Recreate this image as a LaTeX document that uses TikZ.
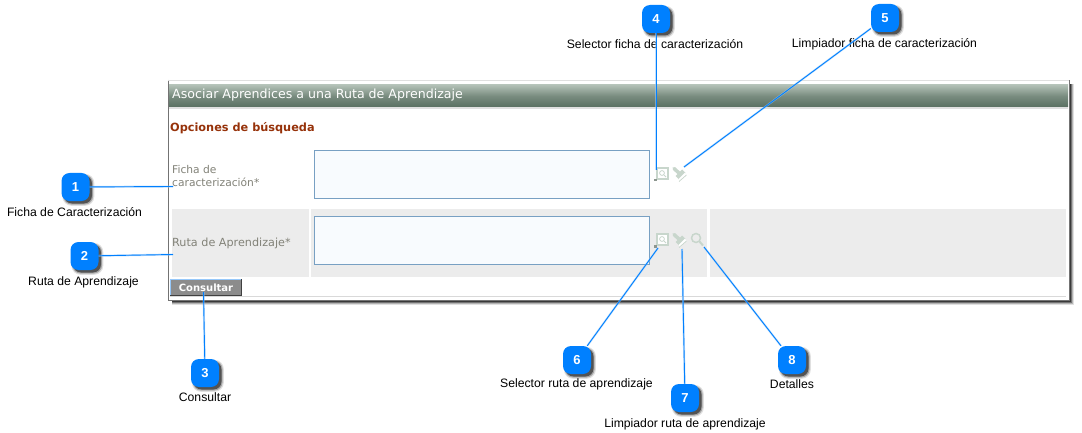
\documentclass[tikz,border=0pt]{standalone}
\usepackage{fontspec}
\setmainfont{Liberation Sans}
\newfontfamily\panelfont{DejaVu Sans}
\usetikzlibrary{shadows,calc}
\definecolor{mblue}{RGB}{0,128,255}
\definecolor{glow}{RGB}{150,200,250}
\definecolor{hdtop}{RGB}{178,192,182}
\definecolor{hdbot}{RGB}{90,112,98}
\definecolor{cellg}{RGB}{236,236,236}
\definecolor{inbd}{RGB}{120,160,195}
\definecolor{infill}{RGB}{248,251,254}
\definecolor{icong}{RGB}{200,214,204}
\definecolor{brown}{RGB}{150,50,10}
\definecolor{lblg}{RGB}{130,130,120}
\tikzset{
  x=1pt,y=-1pt,
  marker/.style={draw=none,fill=mblue,rounded corners=8pt,minimum size=28pt,inner sep=0pt,text=white,
    font=\bfseries\fontsize{13}{13}\selectfont,
    general shadow={shadow xshift=2.5pt,shadow yshift=-2.5pt,shadow scale=1.14,fill=black,opacity=.12},
    general shadow={shadow xshift=2.5pt,shadow yshift=-2.5pt,shadow scale=1.07,fill=black,opacity=.25},
    general shadow={shadow xshift=2.5pt,shadow yshift=-2.5pt,fill=black,opacity=.5}},
  caption/.style={font=\fontsize{12.2}{14}\selectfont,text=black,inner sep=0pt},
  wire/.style={draw=mblue,line width=.9pt,preaction={draw=glow,line width=2pt,opacity=.55}},
  plabel/.style={font=\panelfont\fontsize{10.7}{13}\selectfont,text=lblg,anchor=west,inner sep=0pt,align=left},
  inbox/.style={draw=inbd,fill=infill,line width=.9pt},
  cell/.style={fill=cellg,draw=none},
  icon/.style={draw=icong,line width=1.1pt},
  iconfill/.style={fill=icong,draw=none},
}
\newcommand{\selicon}[1]{%
  \begin{scope}[yshift=#1]
    \draw[icon,fill=white] (657,168) rectangle (668,179);
    \draw[draw=icong,line width=.8pt] (662,173) circle (2.4);
    \draw[draw=icong,line width=.8pt] (664,175) -- (666,177);
    \fill[icong!70!black] (654,179) rectangle (656.5,181.5);
  \end{scope}}
\newcommand{\brushicon}[1]{%
  \begin{scope}[yshift=#1]
    \draw[icong,line width=3.5pt,line cap=round] (674,168.5) -- (680,174);
    \fill[icong] (675.5,176) -- (682,169.5) -- (685.5,173) -- (679,179.5) -- cycle;
    \fill[white] (678.5,179) -- (685,172.7) -- (686.5,175) -- (680,181) -- cycle;
    \draw[icong,line width=.7pt] (679,181.5) -- (686.5,175);
  \end{scope}}
\begin{document}
\begin{tikzpicture}
\useasboundingbox (0,0) rectangle (1082,433);
\fill[white] (0,0) rectangle (1082,433);
% panel shadow
\foreach \o/\a in {5/.12,4/.2,3/.35,2/.5}{
  \fill[black,opacity=\a] (172,84) rectangle (1069+\o,300+\o);
}
\fill[white] (168,80) rectangle (1069,300);
\draw[black!55,line width=1pt] (168.5,80) -- (168.5,300) -- (1069,300) -- (1069,80);
\draw[black!12,line width=1pt] (168,80.5) -- (1069,80.5);
\shade[top color=hdtop,bottom color=hdbot,middle color=hdbot!65!hdtop] (169,85) rectangle (1068,107);
\fill[black!12] (169,107) rectangle (1068,109);
\node[font=\panelfont\fontsize{12.6}{14}\selectfont,text=white,anchor=west,inner sep=0pt] (title) at (172,95.5) {Asociar Aprendices a una Ruta de Aprendizaje};
\node[font=\panelfont\bfseries\fontsize{11.3}{12}\selectfont,text=brown,anchor=west,inner sep=0pt] (opts) at (170,128) {Opciones de búsqueda};
% cells
\fill[cell] (172,209) rectangle (309,277);
\fill[cell] (311,209) rectangle (707,277);
\fill[cell] (710,209) rectangle (1066,277);
\node[plabel] (lf) at (172,176.5) {Ficha de\\caracterización*};
\node[plabel,font=\panelfont\fontsize{11.2}{13}\selectfont] (lr) at (172,243.5) {Ruta de Aprendizaje*};
\draw[inbox] (314.5,150.5) rectangle (649.5,198.5);
\draw[inbox] (314.5,216.5) rectangle (649.5,264.5);
\selicon{0}\brushicon{0}
\selicon{-66}\brushicon{-66}
\draw[draw=icong,line width=1.5pt] (696,238) circle (4.5);
\draw[draw=icong,line width=2pt] (699.5,241.5) -- (703,245.5);
% button
\fill[black!45] (170,279) rectangle (242,295);
\draw[glow,line width=.8pt] (170.4,295) -- (170.4,279.4) -- (242,279.4);
\draw[black!75,line width=.8pt] (170,295) -- (241.6,295) -- (241.6,279.4);
\node[font=\panelfont\bfseries\fontsize{10}{12}\selectfont,text=white,inner sep=0pt] (btn) at (206,287.5) {Consultar};
\draw[black!15,line width=1pt] (242,296) -- (1066,296);
\draw[black!15,line width=1pt] (170,296.5) -- (242,296.5);
% captions
\node[caption] (c1) at (74.5,212) {Ficha de Caracterización};
\node[caption] (c2) at (83.5,282) {Ruta de Aprendizaje};
\node[caption] (c3) at (205,397.5) {Consultar};
\node[caption] (c4) at (655,44) {Selector ficha de caracterización};
\node[caption] (c5) at (884.5,44) {Limpiador ficha de caracterización};
\node[caption] (c6) at (576.5,384) {Selector ruta de aprendizaje};
\node[caption] (c7) at (685,424) {Limpiador ruta de aprendizaje};
\node[caption] (c8) at (792,384) {Detalles};
% connector ends
\coordinate (e1) at (173,186.5);
\coordinate (e2) at (173,254.5);
\coordinate (e3) at (203.5,292);
\coordinate (e4) at (656,170);
\coordinate (e5) at (684,167);
\coordinate (e6) at (658,248);
\coordinate (e7) at (682,249);
\coordinate (e8) at (704,247);
\coordinate (p1) at (75.5,187);
\coordinate (p2) at (84.5,256);
\coordinate (p3) at (205,373);
\coordinate (p4) at (656,19);
\coordinate (p5) at (885,18);
\coordinate (p6) at (577,360);
\coordinate (p7) at (685,398);
\coordinate (p8) at (792,360);
% markers
\foreach \i in {1,...,8}{\node[marker] (m\i) at (p\i) {\i};}
\foreach \i in {1,...,8}{\draw[wire] (m\i) -- (e\i);}
\end{tikzpicture}
\end{document}
